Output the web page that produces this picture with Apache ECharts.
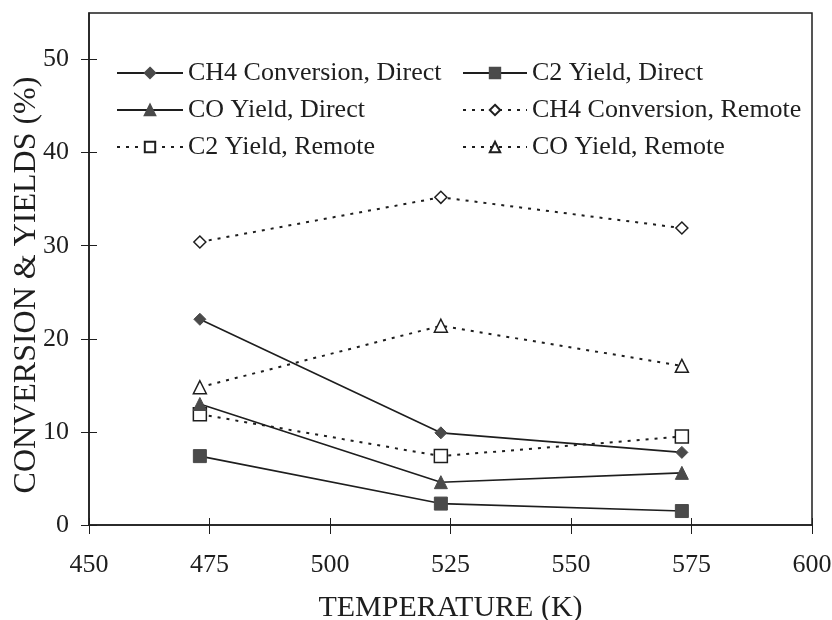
<!DOCTYPE html>
<html>
<head>
<meta charset="utf-8">
<script src="https://cdn.jsdelivr.net/npm/echarts@6/dist/echarts.min.js"></script>
<style>html,body{margin:0;padding:0;background:#fff}#c{width:832px;height:620px}</style>
</head>
<body>
<div id="c"></div>
<script>
var temps = [473, 523, 573];
var ch4Direct = [22.1, 9.9, 7.8];
var c2Direct = [7.4, 2.3, 1.5];
var coDirect = [13.0, 4.6, 5.6];
var ch4Remote = [30.4, 35.2, 31.9];
var c2Remote = [11.9, 7.4, 9.5];
var coRemote = [14.8, 21.4, 17.1];
var yTicks = [0, 10, 20, 30, 40, 50];
var names = ['CH4 Conversion, Direct', 'C2 Yield, Direct', 'CO Yield, Direct',
             'CH4 Conversion, Remote', 'C2 Yield, Remote', 'CO Yield, Remote'];

function pts(v) { return temps.map(function (t, i) { return [t, v[i]]; }); }
var FONT = '"Liberation Serif", "Times New Roman", serif';
var INK = '#1e1e1e';
var FILL = '#4a4a4a';
var DOT = [3, 6];

function mk(name, data, symbol, size, filled, dotted) {
  return {
    name: name, type: 'line', data: pts(data), symbol: symbol, symbolSize: size,
    xAxisIndex: 0, yAxisIndex: 0,
    lineStyle: { color: INK, width: dotted ? 2 : 1.6, type: dotted ? DOT : 'solid' },
    itemStyle: filled ? { color: FILL, borderColor: FILL, borderWidth: 1 }
                      : { color: '#fff', borderColor: INK, borderWidth: 1.5 },
    emphasis: { disabled: true }, animation: false, z: dotted ? 2 : 3
  };
}

var chart = echarts.init(document.getElementById('c'));
var legendText = { fontFamily: FONT, fontSize: 26, color: INK };
chart.setOption({
  backgroundColor: '#fff',
  animation: false,
  grid: { left: 89, right: 20, top: 13, bottom: 95, containLabel: false, outerBoundsMode: 'none',
          show: true, borderColor: INK, borderWidth: 1.5, backgroundColor: 'transparent' },
  legend: [
    { data: [names[0], names[2], names[4]], orient: 'vertical', left: 111, top: 55, itemWidth: 66, itemHeight: 13, itemGap: 11, textStyle: legendText, selectedMode: false },
    { data: [names[1], names[3], names[5]], orient: 'vertical', left: 457, top: 55, itemWidth: 64, itemHeight: 13, itemGap: 11, textStyle: legendText, selectedMode: false }
  ],
  xAxis: [
    { type: 'value', min: 450, max: 600, interval: 25, position: 'bottom',
      name: 'TEMPERATURE (K)', nameLocation: 'middle', nameGap: 68,
      nameTextStyle: { fontFamily: FONT, fontSize: 30, color: INK },
      axisLine: { show: true, lineStyle: { color: INK, width: 1.5 } },
      axisTick: { show: true, length: 9, lineStyle: { color: INK, width: 1 } },
      axisLabel: { fontFamily: FONT, fontSize: 26, color: INK, margin: 27 },
      splitLine: { show: false } },
    { type: 'value', min: 450, max: 600, interval: 25, position: 'bottom',
      axisLine: { show: false },
      axisTick: { show: true, inside: true, length: 7, lineStyle: { color: INK, width: 1 } },
      axisLabel: { show: false }, splitLine: { show: false } }
  ],
  yAxis: [
    { type: 'value', min: 0, max: 55, interval: 10,
      axisLine: { show: true, lineStyle: { color: INK, width: 1.5 } },
      axisTick: { show: true, length: 8, customValues: yTicks, lineStyle: { color: INK, width: 1 } },
      axisLabel: { fontFamily: FONT, fontSize: 26, color: INK, margin: 20, customValues: yTicks },
      splitLine: { show: false } },
    { type: 'value', min: 0, max: 55, interval: 10, position: 'left',
      axisLine: { show: false },
      axisTick: { show: true, inside: true, length: 8, customValues: yTicks, lineStyle: { color: INK, width: 1 } },
      axisLabel: { show: false }, splitLine: { show: false } }
  ],
  graphic: [{
    type: 'text', x: 27, y: 285, rotation: Math.PI / 2,
    style: { text: 'CONVERSION & YIELDS (%)', fontFamily: FONT, fontSize: 32, fill: INK, textAlign: 'center', textVerticalAlign: 'middle' }
  }],
  series: [
    mk(names[0], ch4Direct, 'diamond', 12, true, false),
    mk(names[1], c2Direct, 'rect', 13, true, false),
    mk(names[2], coDirect, 'triangle', 13, true, false),
    mk(names[3], ch4Remote, 'diamond', 12, false, true),
    mk(names[4], c2Remote, 'rect', 13, false, true),
    mk(names[5], coRemote, 'triangle', 13, false, true)
  ]
});
</script>
</body>
</html>
